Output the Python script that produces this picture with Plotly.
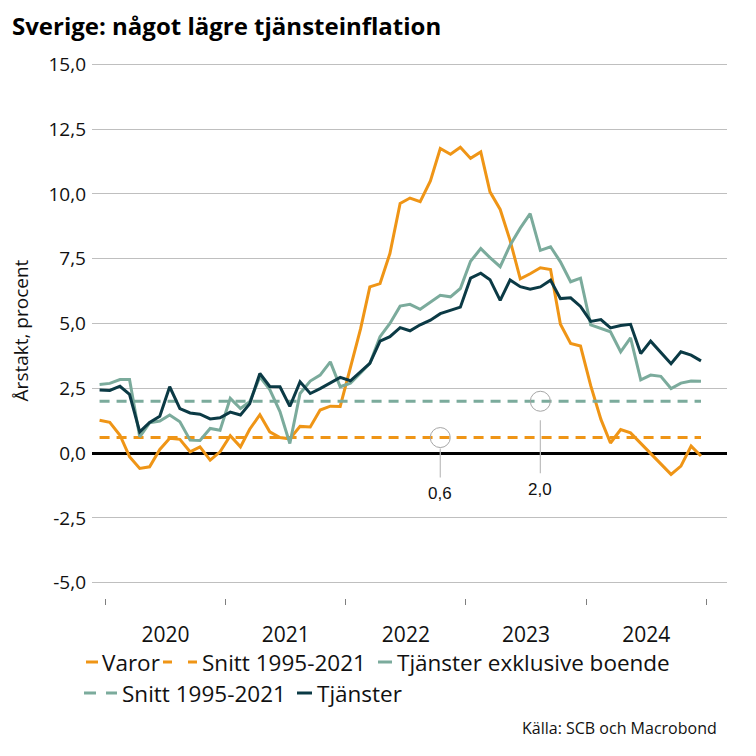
import pandas as pd
import plotly.graph_objects as go

# ---- data (monthly, Dec 2019 - Dec 2024) ----
months = pd.date_range(start="2019-12-01", periods=61, freq="MS") + pd.Timedelta(days=14)

varor = [1.27, 1.19, 0.69, -0.14, -0.59, -0.53, 0.14, 0.57, 0.53, 0.05,
         0.24, -0.27, 0.05, 0.67, 0.24, 0.92, 1.48, 0.82, 0.60, 0.55,
         1.03, 1.01, 1.66, 1.81, 1.80, 3.30, 4.80, 6.41, 6.54, 7.70,
         9.63, 9.84, 9.70, 10.50, 11.75, 11.53, 11.80, 11.37, 11.62, 10.08,
         9.40, 8.21, 6.72, 6.92, 7.15, 7.08, 4.97, 4.23, 4.13, 2.60,
         1.30, 0.39, 0.91, 0.78, 0.37, 0.00, -0.43, -0.82, -0.50, 0.27,
         -0.11]

tjanster_exkl_boende = [2.65, 2.69, 2.84, 2.84, 0.63, 1.17, 1.24, 1.47, 1.21, 0.50,
                        0.49, 0.95, 0.88, 2.11, 1.72, 1.98, 2.94, 2.45, 1.60, 0.37,
                        2.30, 2.78, 3.01, 3.52, 2.56, 2.70, 3.09, 3.46, 4.49, 5.00,
                        5.67, 5.74, 5.55, 5.83, 6.09, 6.03, 6.35, 7.40, 7.89, 7.54,
                        7.19, 8.02, 8.68, 9.24, 7.82, 7.96, 7.38, 6.61, 6.75, 4.95,
                        4.80, 4.68, 3.91, 4.45, 2.83, 3.01, 2.96, 2.49, 2.70, 2.78,
                        2.77]

tjanster = [2.43, 2.42, 2.58, 2.27, 0.82, 1.18, 1.42, 2.56, 1.72, 1.55,
            1.50, 1.32, 1.36, 1.58, 1.47, 1.90, 3.07, 2.57, 2.56, 1.80,
            2.75, 2.30, 2.49, 2.70, 2.92, 2.79, 3.14, 3.46, 4.32, 4.49,
            4.84, 4.72, 4.95, 5.13, 5.38, 5.51, 5.63, 6.75, 6.94, 6.69,
            5.89, 6.68, 6.42, 6.32, 6.41, 6.67, 5.96, 5.99, 5.66, 5.08,
            5.15, 4.83, 4.92, 4.97, 3.84, 4.32, 3.88, 3.45, 3.91, 3.78,
            3.56]

snitt_varor = 0.6
snitt_tjanster = 2.0
snitt_varor_label = "0,6"
snitt_tjanster_label = "2,0"
snitt_varor_marker_date = "2022-10-15"
snitt_tjanster_marker_date = "2023-08-15"

y_tickvals = [-5.0, -2.5, 0.0, 2.5, 5.0, 7.5, 10.0, 12.5, 15.0]
y_ticktext = ["-5,0", "-2,5", "0,0", "2,5", "5,0", "7,5", "10,0", "12,5", "15,0"]

legend_labels = ["Varor", "Snitt 1995-2021", "Tjänster exklusive boende",
                 "Snitt 1995-2021", "Tjänster"]

# ---- style ----
ORANGE = "#EF9516"
TEAL = "#7BAB9C"
DARK = "#0B3A45"
GRID = "#BFBFBF"
FONT = "Open Sans"

fig = go.Figure()
fig.add_trace(go.Scatter(x=months, y=varor, mode="lines", name=legend_labels[0],
                         line=dict(color=ORANGE, width=3)))
fig.add_trace(go.Scatter(x=months, y=[snitt_varor] * len(months), mode="lines",
                         name=legend_labels[1],
                         line=dict(color=ORANGE, width=3, dash="10px,7px")))
fig.add_trace(go.Scatter(x=months, y=tjanster_exkl_boende, mode="lines",
                         name=legend_labels[2], line=dict(color=TEAL, width=3)))
fig.add_trace(go.Scatter(x=months, y=[snitt_tjanster] * len(months), mode="lines",
                         name=legend_labels[3],
                         line=dict(color=TEAL, width=3, dash="10px,7px")))
fig.add_trace(go.Scatter(x=months, y=tjanster, mode="lines", name=legend_labels[4],
                         line=dict(color=DARK, width=3)))

# page has an 8px body margin -> figure coordinates = reference pixels - 8
OFF = 8
W, H = 756 - 2 * OFF, 756 - 2 * OFF
L, R, T, B = 92 - OFF, 727 - OFF, 63 - OFF, 598 - OFF


def px(xp):
    return (xp - OFF - L) / (R - L)


def py(yp):
    return (B - (yp - OFF)) / (B - T)


shapes = []
annotations = []

# value markers (circle + leader + label)
for d, v, lab, lead0, lead1, lab_shift in [
    (snitt_varor_marker_date, snitt_varor, snitt_varor_label, -11, -40, -56),
    (snitt_tjanster_marker_date, snitt_tjanster, snitt_tjanster_label, -19, -72, -88),
]:
    shapes.append(dict(type="circle", xref="x", yref="y", xsizemode="pixel",
                       ysizemode="pixel", xanchor=d, yanchor=v,
                       x0=-10, x1=10, y0=-10, y1=10,
                       line=dict(color="#A6A6A6", width=1)))
    shapes.append(dict(type="line", xref="x", yref="y", xsizemode="pixel",
                       ysizemode="pixel", xanchor=d, yanchor=v,
                       x0=0, x1=0, y0=lead0, y1=lead1,
                       line=dict(color="#BDBDBD", width=1.2)))
    annotations.append(dict(x=d, y=v, xref="x", yref="y", text=lab,
                            showarrow=False, yshift=lab_shift,
                            font=dict(family="Liberation Sans", size=17, color="#111111")))

# custom legend: (symbol x0, x1, dash, colour, text x, row y, label) in reference pixels
legend_items = [
    (86, 98, "solid", ORANGE, 100, 662, legend_labels[0]),
    (163, 198, "9px,16px", ORANGE, 200, 662, legend_labels[1]),
    (378, 392, "solid", TEAL, 395, 662, legend_labels[2]),
    (84, 117, "12px,10px", TEAL, 120, 693, legend_labels[3]),
    (297, 312, "solid", DARK, 315, 693, legend_labels[4]),
]
for x0, x1, dash, col, tx, ry, lab in legend_items:
    shapes.append(dict(type="line", xref="paper", yref="paper",
                       x0=px(x0), x1=px(x1), y0=py(ry), y1=py(ry),
                       line=dict(color=col, width=3, dash=dash)))
    annotations.append(dict(x=px(tx), y=py(ry), xref="paper", yref="paper",
                            xanchor="left", yanchor="middle", text=lab,
                            showarrow=False,
                            font=dict(family=FONT, size=22.5, color="#111111")))

annotations.append(dict(x=px(719), y=py(728), xref="paper", yref="paper",
                        xanchor="right", yanchor="middle",
                        text="Källa: SCB och Macrobond", showarrow=False,
                        font=dict(family=FONT, size=16, color="#111111")))

# title as a left-anchored annotation, kept inside the figure
annotations.append(dict(x=px(10), y=py(25), xref="paper", yref="paper",
                        xanchor="left", yanchor="middle",
                        text="<b>Sverige: något lägre tjänsteinflation</b>",
                        showarrow=False,
                        font=dict(family=FONT, size=24, color="#000000")))

fig.update_layout(
    width=W, height=H,
    margin=dict(l=L, r=W - R, t=T, b=H - B),
    paper_bgcolor="white", plot_bgcolor="white",
    showlegend=False,
    font=dict(family=FONT, size=19, color="#111111"),
    shapes=shapes,
    annotations=annotations,
)

fig.update_xaxes(
    type="date",
    range=["2019-11-22", "2025-03-04"],
    tick0="2020-01-01", dtick="M12", tickformat="%Y",
    ticklabelmode="period",
    ticks="outside", ticklen=6, tickcolor="#7F7F7F", tickwidth=1,
    ticklabelstandoff=12,
    showgrid=False, showline=False, zeroline=False,
    tickfont=dict(family=FONT, size=21, color="#111111"),
)

fig.update_yaxes(
    range=[-5.59, 15.05],
    tickvals=y_tickvals, ticktext=y_ticktext,
    showgrid=True, gridcolor=GRID, gridwidth=1.3,
    zeroline=True, zerolinecolor="#000000", zerolinewidth=3,
    showline=False, ticks="",
    ticklabelstandoff=5,
    tickfont=dict(family=FONT, size=19, color="#111111"),
    title=dict(text="Årstakt, procent", font=dict(family=FONT, size=19, color="#111111"),
               standoff=14),
)

fig.write_html("out.html")
